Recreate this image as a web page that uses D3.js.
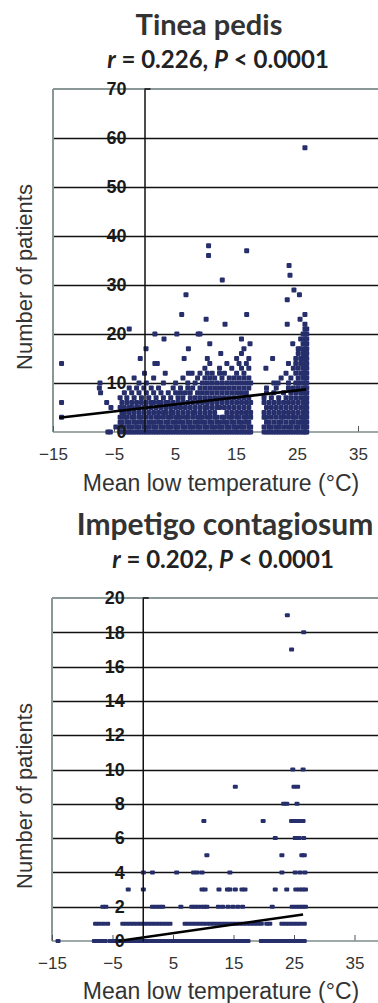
<!DOCTYPE html>
<html>
<head>
<meta charset="utf-8">
<script src="https://cdn.jsdelivr.net/npm/d3@7"></script>
<style>
  body { margin: 0; background: #fff; }
  svg { display: block; }
</style>
</head>
<body>
<svg id="chart" width="378" height="1003"></svg>
<script>
// x ticks shared by both panels
const xTicks = [-15, -5, 5, 15, 25, 35]

// Tinea pedis: isolated points [temp, patients]
const tineaPoints = [
  [-13.6, 14], [-13.6, 6], [-13.6, 3], [-7.3, 10], [-7.4, 9], [-7.2, 8], [-6.2, 6], [-6.0, 0],
  [-5.6, 0], [-5.5, 5], [-4.7, 1], [-2.5, 21], [-0.7, 15], [0.25, 17], [0, 12], [1.7, 14], [2.1, 14],
  [1.7, 20], [3.2, 19], [3.4, 12], [5.3, 20], [6.1, 24], [6.5, 15], [6.8, 28], [7.2, 17], [7.2, 12],
  [7.8, 12], [8.8, 20], [9.1, 20], [10.1, 23], [10.5, 38], [10.5, 36], [10.7, 18], [12.5, 16],
  [12.75, 31], [13.2, 22], [15.9, 19], [16.75, 37], [16.75, 24], [17.3, 18], [19.9, 13], [21, 15],
  [21.9, 10], [23.4, 27], [23.4, 22], [23.6, 14], [23.7, 34], [23.85, 32], [24.3, 18], [24.5, 29],
  [25.4, 28], [25.5, 23], [26.3, 24], [26.3, 58]
]

// Tinea pedis: dense columns [temp, [patients...]]
const tineaColumns = [
  [-4.0, [0, 1, 2, 3, 5, 7]],
  [-3.7, [1, 2, 4, 6]],
  [-3.3, [0, 1, 3, 4, 5, 8]],
  [-2.9, [0, 2, 3, 6, 7]],
  [-2.5, [0, 1, 2, 4, 5, 9]],
  [-2.1, [0, 1, 3, 5, 6, 8]],
  [-1.7, [0, 2, 3, 4, 7, 11]],
  [-1.3, [0, 1, 2, 5, 6, 9]],
  [-0.9, [0, 1, 3, 4, 5, 8, 10]],
  [-0.5, [0, 2, 3, 6, 7]],
  [-0.1, [0, 1, 2, 4, 5, 9]],
  [0.3, [0, 1, 3, 5, 6, 8, 10]],
  [0.7, [0, 1, 2, 4, 7]],
  [1.1, [0, 2, 3, 5, 6, 9]],
  [1.5, [0, 1, 2, 4, 6, 8, 11]],
  [1.9, [0, 1, 3, 5, 7]],
  [2.3, [0, 2, 3, 4, 6, 9]],
  [2.7, [0, 1, 2, 5, 6, 8]],
  [3.1, [0, 1, 3, 4, 7, 10]],
  [3.5, [0, 2, 4, 5, 6]],
  [3.9, [0, 1, 2, 3, 6, 8]],
  [4.3, [0, 1, 3, 4, 5, 7]],
  [4.7, [0, 2, 4, 6, 9]],
  [5.1, [0, 1, 2, 3, 5, 8, 10]],
  [5.5, [0, 1, 3, 4, 6, 7]],
  [5.9, [0, 2, 3, 5, 8, 9]],
  [6.3, [0, 1, 2, 4, 6, 7, 11]],
  [6.7, [0, 1, 3, 5, 8]],
  [7.1, [0, 2, 3, 4, 6, 9, 10]],
  [7.5, [0, 1, 2, 5, 7, 8]],
  [7.9, [0, 1, 3, 4, 6, 9]],
  [8.3, [0, 2, 4, 5, 7, 10]],
  [8.7, [0, 1, 2, 3, 6, 8, 11]],
  [9.1, [0, 1, 3, 4, 5, 7, 9, 12]],
  [9.5, [0, 2, 3, 6, 8, 10]],
  [9.9, [0, 1, 2, 4, 5, 7, 9, 11, 13]],
  [10.3, [0, 1, 3, 5, 6, 8, 10, 12, 15]],
  [10.7, [0, 2, 3, 4, 7, 9, 11, 14]],
  [11.1, [0, 1, 2, 5, 6, 8, 10, 12]],
  [11.5, [0, 1, 3, 4, 7, 9, 11]],
  [11.9, [0, 2, 3, 5, 6, 8, 10]],
  [12.3, [0, 1, 2, 5, 7, 9, 12, 13]],
  [12.7, [0, 1, 3, 6, 8, 10, 11]],
  [13.1, [0, 2, 3, 5, 7, 9, 12]],
  [13.5, [0, 1, 2, 4, 6, 8, 10, 14]],
  [13.9, [0, 1, 3, 5, 7, 9, 11]],
  [14.3, [0, 2, 3, 4, 6, 8, 10, 13]],
  [14.7, [0, 1, 2, 5, 7, 9, 11]],
  [15.1, [0, 1, 3, 4, 6, 8, 10, 12, 15]],
  [15.5, [0, 2, 3, 5, 7, 9, 11, 14]],
  [15.9, [0, 1, 2, 4, 6, 8, 10, 13, 16]],
  [16.3, [0, 1, 3, 5, 7, 9, 11, 12, 17]],
  [16.7, [0, 2, 3, 4, 6, 8, 10, 14]],
  [17.1, [0, 1, 2, 5, 7, 9, 11, 13, 15]],
  [17.4, [0, 1, 3, 4, 6, 10]],
  [19.6, [0, 1, 3, 4, 6, 7]],
  [20.0, [0, 2, 3, 5, 8, 9]],
  [20.4, [0, 1, 2, 4, 6]],
  [20.8, [0, 1, 3, 5, 7]],
  [21.2, [0, 2, 4, 6, 8, 10]],
  [21.6, [0, 1, 3, 5, 9]],
  [22.0, [0, 1, 2, 4, 6, 7]],
  [22.4, [0, 2, 3, 5, 11]],
  [22.8, [0, 1, 3, 4, 6, 8]],
  [23.2, [0, 2, 5, 7, 12]],
  [23.6, [0, 1, 3, 4, 6, 9, 10]],
  [24.0, [0, 1, 2, 5, 7, 8, 11]],
  [24.4, [0, 2, 3, 4, 6, 9, 13]],
  [24.8, [0, 1, 3, 5, 7, 8, 10, 12, 14, 15]],
  [25.2, [0, 1, 2, 4, 6, 9, 10, 11, 13, 16, 17]],
  [25.6, [0, 2, 3, 5, 7, 8, 10, 12, 14, 15, 17, 19]],
  [26.0, [0, 1, 2, 3, 4, 6, 8, 9, 11, 12, 13, 15, 16, 18, 20]],
  [26.3, [0, 1, 2, 3, 4, 5, 6, 7, 8, 9, 10, 11, 12, 13, 14, 15, 16, 17, 18, 19, 20, 21, 22]],
  [26.6, [0, 1, 2, 3, 4, 5, 6, 7, 8, 9, 10, 11, 12, 13, 14, 15, 16, 17, 18, 19, 20, 21]]
]
const tineaFit = [[-14, 2.9], [26.5, 8.7]]
const tineaYTicks = [0, 10, 20, 30, 40, 50, 60, 70]

// Impetigo contagiosum: rows [patients, [temps...]]
const impetigoRows = [
  [0, [-14.0, -8.0, -7.4, -6.8, -6.2, -5.4, -4.8, -4.2, -3.6, -3.0, -2.4, -1.8, -1.2, -0.6, 0.0, 0.6,
    1.2, 1.8, 2.4, 3.0, 3.6, 4.2, 4.8, 5.4, 6.0, 6.6, 7.2, 7.8, 8.4, 9.0, 9.6, 10.2, 10.8, 11.4, 12.0,
    12.6, 13.2, 13.8, 14.4, 15.0, 15.6, 16.2, 16.8, 17.4, 19.6, 20.2, 20.8, 21.4, 22.0, 22.6, 23.2,
    23.8, 24.4, 25.0, 25.6, 26.2, 26.7]],
  [1, [-7.8, -7.2, -6.5, -5.8, -3.3, -2.7, -2.1, -1.5, -0.9, -0.3, 0.3, 0.9, 1.5, 2.1, 2.7, 3.3, 3.9,
    4.5, 7.0, 7.6, 8.2, 8.8, 9.4, 10.0, 10.6, 11.2, 11.8, 12.4, 13.0, 13.6, 14.2, 14.8, 15.4, 16.0,
    16.6, 17.2, 17.8, 18.4, 19.0, 19.6, 20.5, 21.0, 23.0, 23.6, 24.2, 24.8, 25.4, 26.0, 26.7]],
  [2, [-6.6, -6.1, 1.6, 2.2, 2.8, 3.3, 6.3, 8.1, 8.6, 9.1, 9.7, 10.2, 10.6, 12.5, 13.2, 14.1, 14.9,
    15.7, 16.5, 21.4, 24.7, 25.3, 25.9, 26.4, 26.9]],
  [3, [-2.4, 0.1, 9.8, 10.3, 12.6, 14.0, 14.4, 15.3, 16.4, 16.9, 21.9, 23.8, 25.3, 25.9, 26.4, 26.9]],
  [4, [0.1, 1.6, 5.6, 8.4, 9.0, 9.8, 14.4, 23.0, 25.2, 26.0, 26.8]],
  [5, [10.6, 23.0, 26.3, 26.7]],
  [6, [21.9, 25.2, 25.8, 26.6]],
  [7, [10.1, 19.9, 24.6, 25.2, 25.8, 26.5]],
  [8, [23.3, 23.8, 25.5]],
  [9, [15.3, 25.0, 25.6]],
  [10, [24.8, 26.5]],
  [17, [24.6]],
  [18, [26.6]],
  [19, [23.9]]
]
const impetigoFit = [[-4, 0.0], [26.5, 1.55]]
const impetigoYTicks = [0, 2, 4, 6, 8, 10, 12, 14, 16, 18, 20]

const svg = d3.select('#chart')
const dotColor = '#262f6c'
const arial = '"Liberation Sans", Arial, sans-serif'

function drawPanel(opt) {
  const x = d3.scaleLinear().domain([-15, 40]).range([opt.left, opt.left + 55 * opt.pxPerDeg])
  const y = d3.scaleLinear().domain([0, opt.yMax]).range([opt.bottom, opt.top])
  const g = svg.append('g')

  // titles
  g.append('text')
    .attr('x', opt.titleX).attr('y', opt.titleY)
    .attr('text-anchor', 'middle')
    .attr('font-family', 'Lato, sans-serif')
    .attr('font-weight', 'bold')
    .attr('font-size', opt.titleSize)
    .attr('fill', '#333')
    .text(opt.title)

  const sub = g.append('text')
    .attr('x', opt.statX).attr('y', opt.titleY + 33)
    .attr('text-anchor', 'middle')
    .attr('font-family', 'Lato, sans-serif')
    .attr('font-weight', 'bold')
    .attr('font-size', 24)
    .attr('fill', '#222')
  sub.append('tspan').attr('font-style', 'italic').text('r')
  sub.append('tspan').text(' = ' + opt.r + ', ')
  sub.append('tspan').attr('font-style', 'italic').text('P')
  sub.append('tspan').text(' < 0.0001')

  // gridlines
  g.append('g').selectAll('line')
    .data(opt.yTicks.filter(d => d > 0 && d < opt.yMax))
    .enter().append('line')
    .attr('x1', x(-15)).attr('x2', 378)
    .attr('y1', d => Math.round(y(d)) + 0.5).attr('y2', d => Math.round(y(d)) + 0.5)
    .attr('stroke', '#111').attr('stroke-width', 1.3)

  // frame (left + top)
  g.append('line')
    .attr('x1', x(-15)).attr('x2', 378).attr('y1', y(opt.yMax)).attr('y2', y(opt.yMax))
    .attr('stroke', '#8b9898').attr('stroke-width', 2)
  g.append('line')
    .attr('x1', x(-15)).attr('x2', x(-15)).attr('y1', y(opt.yMax)).attr('y2', y(0))
    .attr('stroke', '#8b9898').attr('stroke-width', 2)

  // x axis
  const xAxis = g.append('g')
    .attr('transform', `translate(0,${y(0)})`)
    .call(d3.axisBottom(x).tickValues(xTicks).tickSize(-6).tickPadding(16).tickFormat(d3.format('d')))
  xAxis.attr('font-family', arial).attr('font-size', 17)
  xAxis.select('.domain').remove()
  xAxis.append('line')
    .attr('x1', x(-15)).attr('x2', 378)
    .attr('stroke', '#7f8c8c').attr('stroke-width', 1.5)
  xAxis.selectAll('.tick line').attr('stroke', '#555')
  xAxis.selectAll('.tick text').attr('fill', '#333')

  // y axis at x = 0
  const yAxis = g.append('g')
    .attr('transform', `translate(${x(0)},0)`)
    .call(d3.axisLeft(y).tickValues(opt.yTicks).tickSize(0).tickPadding(18))
  yAxis.attr('font-family', arial).attr('font-size', 18).attr('font-weight', 'bold')
  yAxis.select('.domain')
    .attr('stroke', '#111').attr('stroke-width', 1.5)
  yAxis.append('line')
    .attr('x1', 0).attr('x2', 6).attr('y1', y(opt.yMax)).attr('y2', y(opt.yMax))
    .attr('stroke', '#111').attr('stroke-width', 1.5)
  yAxis.selectAll('.tick text').attr('fill', '#1a1a1a')

  // points
  g.append('g').selectAll('rect')
    .data(opt.points)
    .enter().append('rect')
    .attr('x', d => x(d[0]) - opt.dotW / 2)
    .attr('y', d => y(d[1]) - opt.dotH / 2)
    .attr('width', opt.dotW)
    .attr('height', opt.dotH)
    .attr('rx', 1)
    .attr('fill', dotColor)

  // regression line
  g.append('path')
    .datum(opt.fit)
    .attr('d', d3.line().x(d => x(d[0])).y(d => y(d[1])))
    .attr('stroke', '#000').attr('stroke-width', 2.6).attr('fill', 'none')

  // y labels stay readable over the points
  yAxis.raise()

  // axis titles
  g.append('text')
    .attr('transform', `translate(32,${opt.yLabelY}) rotate(-90)`)
    .attr('text-anchor', 'middle')
    .attr('font-family', arial)
    .attr('font-size', 22)
    .attr('fill', '#333')
    .text('Number of patients')

  g.append('text')
    .attr('x', 221).attr('y', opt.xLabelY)
    .attr('text-anchor', 'middle')
    .attr('font-family', arial)
    .attr('font-size', 23)
    .attr('fill', '#333')
    .text('Mean low temperature (°C)')
}

const tineaAll = tineaPoints.concat(...tineaColumns.map(c => c[1].map(n => [c[0], n])))
const impetigoAll = [].concat(...impetigoRows.map(r => r[1].map(t => [t, r[0]])))

drawPanel({
  title: 'Tinea pedis', titleSize: 29, r: '0.226', titleX: 209, statX: 218, titleY: 35,
  left: 53, pxPerDeg: 6.1, top: 89, bottom: 432, yMax: 70, yTicks: tineaYTicks,
  points: tineaAll, fit: tineaFit, dotW: 5, dotH: 5, yLabelY: 277, xLabelY: 491
})

drawPanel({
  title: 'Impetigo contagiosum', titleSize: 30, r: '0.202', titleX: 225, statX: 223, titleY: 535,
  left: 52, pxPerDeg: 6.05, top: 598, bottom: 941, yMax: 20, yTicks: impetigoYTicks,
  points: impetigoAll, fit: impetigoFit, dotW: 5, dotH: 4, yLabelY: 796, xLabelY: 999
})
</script>
</body>
</html>
